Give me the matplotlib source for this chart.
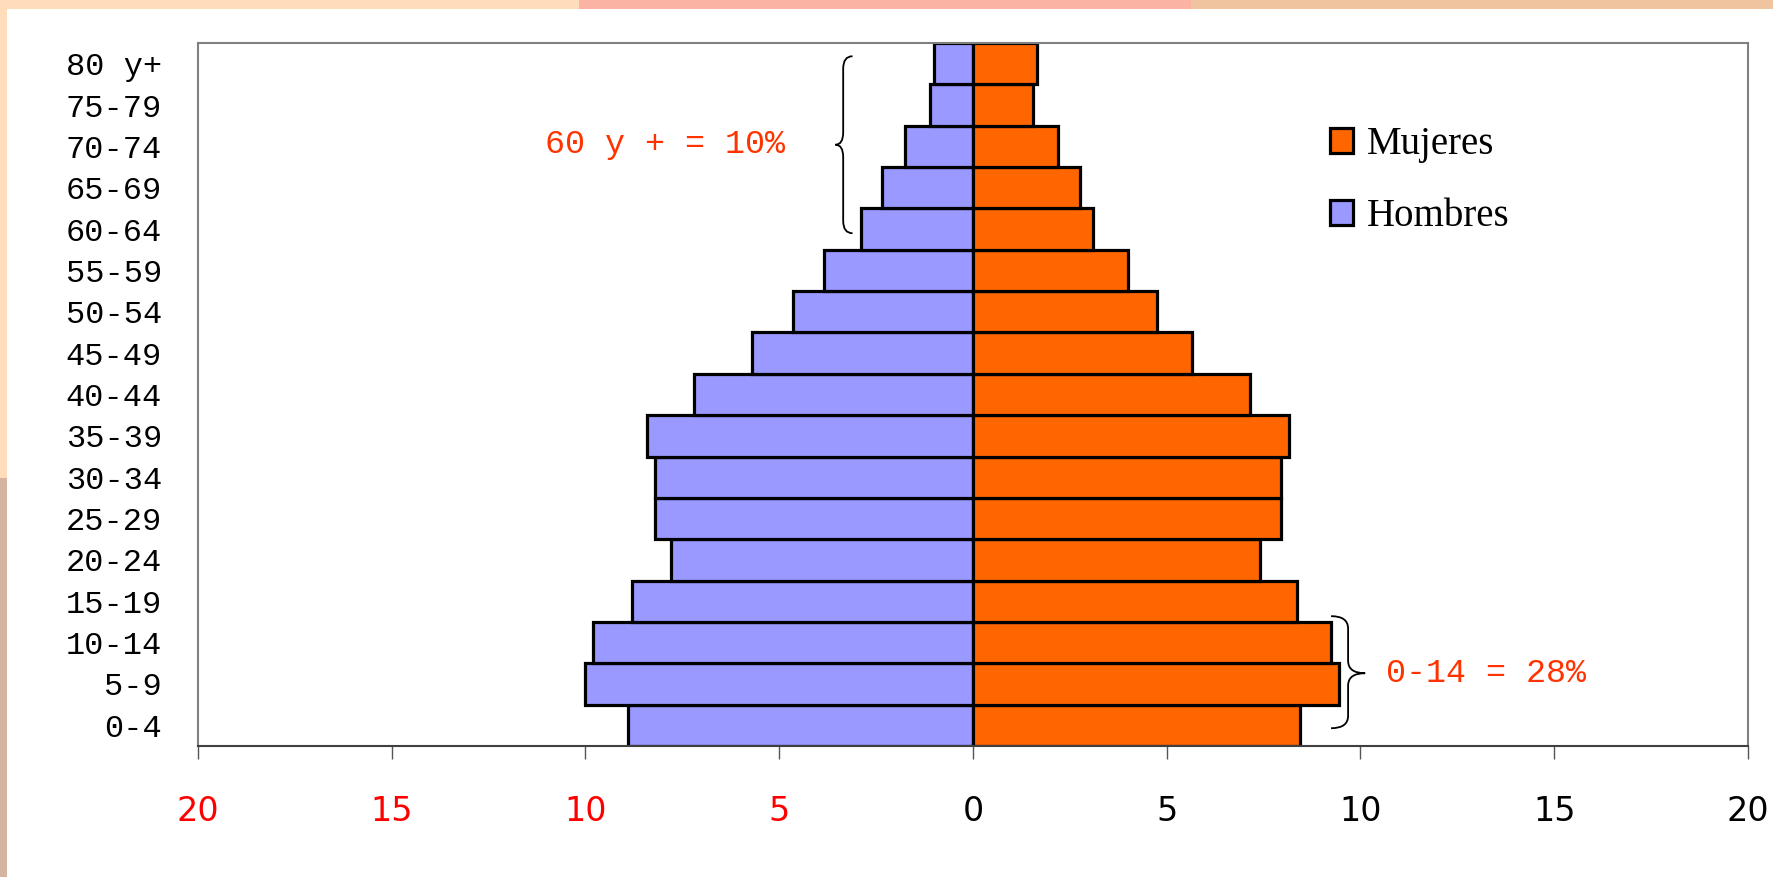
import matplotlib
matplotlib.use("Agg")
import matplotlib.pyplot as plt
from matplotlib.patches import Rectangle, Patch, PathPatch
from matplotlib.path import Path

# Grupos de edad (de abajo hacia arriba)
grupos = ["0-4", "5-9", "10-14", "15-19", "20-24", "25-29", "30-34", "35-39",
          "40-44", "45-49", "50-54", "55-59", "60-64", "65-69", "70-74",
          "75-79", "80 y+"]
hombres = [8.9, 10.0, 9.8, 8.8, 7.8, 8.2, 8.2, 8.4, 7.2, 5.7, 4.65, 3.85,
           2.9, 2.35, 1.75, 1.1, 1.0]
mujeres = [8.45, 9.45, 9.25, 8.35, 7.4, 7.95, 7.95, 8.15, 7.15, 5.65, 4.75,
           4.0, 3.1, 2.75, 2.2, 1.55, 1.65]
xticks = [-20, -15, -10, -5, 0, 5, 10, 15, 20]

azul = "#9999FF"
naranja = "#FF6600"
rojo_txt = "#FF3300"

W, H = 1774, 877
fig = plt.figure(figsize=(W / 100, H / 100), dpi=100)
fig.patch.set_facecolor("white")

# marco decorativo (banda superior y borde izquierdo)
for x0, x1, c in [(0, 579, "#FFDCBA"), (579, 1191, "#FBB4A4"), (1191, W, "#F1C4A0")]:
    fig.add_artist(Rectangle((x0 / W, 1 - 9 / H), (x1 - x0) / W, 9 / H,
                             transform=fig.transFigure, color=c, lw=0))
fig.add_artist(Rectangle((0, 1 - 478 / H), 7 / W, (478 - 9) / H,
                         transform=fig.transFigure, color="#FFDCBA", lw=0))
fig.add_artist(Rectangle((0, 0), 7 / W, 1 - 478 / H,
                         transform=fig.transFigure, color="#D5B5A0", lw=0))

ax = fig.add_axes([198 / W, 1 - 746 / H, (1748 - 198) / W, (746 - 43) / H])

y = list(range(len(grupos)))
ax.barh(y, [-v for v in hombres], height=1.0, color=azul, edgecolor="black", lw=2.3)
ax.barh(y, mujeres, height=1.0, color=naranja, edgecolor="black", lw=2.3)

ax.set_xlim(-20, 20)
ax.set_ylim(-0.5, len(grupos) - 0.5)
ax.set_xticks(xticks)
ax.set_xticklabels([str(abs(t)) for t in xticks], family="DejaVu Sans")
for t, lab in zip(xticks, ax.get_xticklabels()):
    lab.set_color("#FF0000" if t < 0 else "black")
ax.set_yticks(y)
ax.set_yticklabels(grupos, family="Liberation Mono")
ax.tick_params(axis="x", length=9.4, width=1, color="#555555", pad=26, labelsize=24)
ax.tick_params(axis="y", length=0, pad=26, labelsize=23)

for s in ["top", "left", "right"]:
    ax.spines[s].set_color("#808080")
    ax.spines[s].set_linewidth(1.5)
ax.spines["bottom"].set_color("#404040")
ax.spines["bottom"].set_linewidth(1.5)


def llave(ax, x_fin, x_eje, x_punta, y0, y1, ym, r):
    verts = [(x_fin, y1), (x_eje, y1), (x_eje, y1 - r),
             (x_eje, ym + r),
             (x_eje, ym), (x_punta, ym),
             (x_eje, ym), (x_eje, ym - r),
             (x_eje, y0 + r),
             (x_eje, y0), (x_fin, y0)]
    codes = [Path.MOVETO, Path.CURVE3, Path.CURVE3, Path.LINETO,
             Path.CURVE3, Path.CURVE3, Path.CURVE3, Path.CURVE3,
             Path.LINETO, Path.CURVE3, Path.CURVE3]
    ax.add_patch(PathPatch(Path(verts, codes), fill=False, lw=1.3,
                           edgecolor="black", clip_on=False))


llave(ax, -3.11, -3.35, -3.55, 11.9, 16.18, 14.04, 0.3)
llave(ax, 9.24, 9.68, 10.12, -0.07, 2.64, 1.26, 0.3)

ax.text(-4.86, 14.04, "60 y + = 10%", color=rojo_txt, fontsize=24,
        family="Liberation Mono", ha="right", va="center")
ax.text(10.67, 1.26, "0-14 = 28%", color=rojo_txt, fontsize=24,
        family="Liberation Mono", ha="left", va="center")

handles = [Patch(facecolor=naranja, edgecolor="black", lw=2.3, label="Mujeres"),
           Patch(facecolor=azul, edgecolor="black", lw=2.3, label="Hombres")]
fig.legend(handles=handles, loc="upper left", bbox_to_anchor=(1330 / W, 1 - 126 / H),
           frameon=False, borderpad=0, borderaxespad=0, handlelength=0.6,
           handleheight=0.6, handletextpad=0.35, labelspacing=0.9,
           prop={"family": "Liberation Serif", "size": 28})

fig.savefig("out.png", dpi=100)
